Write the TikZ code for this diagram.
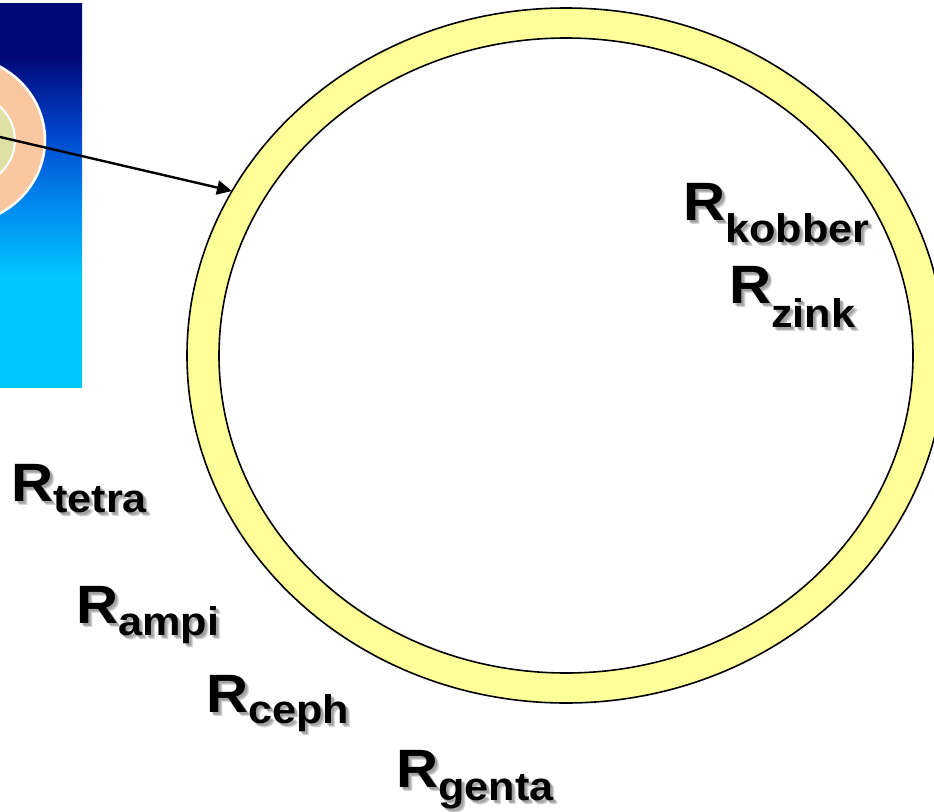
\documentclass[tikz,border=0pt]{standalone}
\usepackage{fontspec}
\usetikzlibrary{arrows.meta}
\newfontfamily\labelfont{Liberation Sans}[FakeStretch=1.08]
\definecolor{ringyellow}{RGB}{255,255,153}
\definecolor{platenavy} {RGB}{0,8,120}
\definecolor{plateblue} {RGB}{0,70,205}
\definecolor{platemid}  {RGB}{0,135,238}
\definecolor{platecyan} {RGB}{0,200,255}
\definecolor{zonepeach} {RGB}{250,200,160}
\definecolor{zonecore}  {RGB}{222,226,165}

% navy on top, cyan over the lower half
\pgfdeclareverticalshading{platefade}{100bp}{color(0bp)=(platecyan);
  color(39bp)=(platecyan); color(49bp)=(platemid); color(58bp)=(plateblue);
  color(68bp)=(platenavy); color(100bp)=(platenavy)}

% resistance label: name, x, baseline, drop of subscript, subscript
\newcommand\drug[5]{%
  \foreach \s in {2,3,4}{
    \node[rlabel,shadowtext,xshift=\s pt,yshift=-\s pt](#1-sh\s) at(#2,#3)
      {{\fontsize{54}{54}\selectfont R}\raisebox{-#4pt}{\fontsize{40}{40}\selectfont #5}};}
  \node[rlabel](#1) at(#2,#3)
    {{\fontsize{54}{54}\selectfont R}\raisebox{-#4pt}{\fontsize{40}{40}\selectfont #5}};}

\begin{document}
\begin{tikzpicture}[
  x=1pt,y=-1pt,
  rlabel/.style={anchor=base west,inner sep=0pt,font=\labelfont\bfseries},
  shadowtext/.style={text=black!60,opacity=0.28},
  ringline/.style={draw=black,line width=1.6pt},
  >={Triangle[length=15pt,width=14pt]}]
  \useasboundingbox (0,0) rectangle (934,811);

  % plate photo cut at the left edge
  \begin{scope}
    \clip (0,3) rectangle (82,387);
    \shade[shading=platefade] (0,3) rectangle (82,387);
    \fill[zonepeach,draw=white,line width=2.5pt] (-43,140) ellipse [x radius=88,y radius=84];
    \fill[zonecore,draw=white,line width=2pt] (-43,140) ellipse [x radius=58,y radius=50];
  \end{scope}

  % cell wall ring
  \draw[ringline,fill=ringyellow] (566,355.5) ellipse [x radius=379,y radius=347.5];
  \draw[ringline,fill=white] (566,355.5) ellipse [x radius=347,y radius=317.5];

  \coordinate (zone) at (0,137);
  \coordinate (wall) at (232,191);
  \draw[->,line width=2.4pt] (zone) -- (wall);

  \drug{kobber}{683}{220}{22}{kobber}
  \drug{zink}{729}{303}{24}{zink}
  \drug{tetra}{11}{501}{11}{tetra}
  \drug{ampi}{76}{623}{12}{ampi}
  \drug{ceph}{206}{712}{11}{ceph}
  \drug{genta}{396}{787}{13}{genta}
\end{tikzpicture}
\end{document}
